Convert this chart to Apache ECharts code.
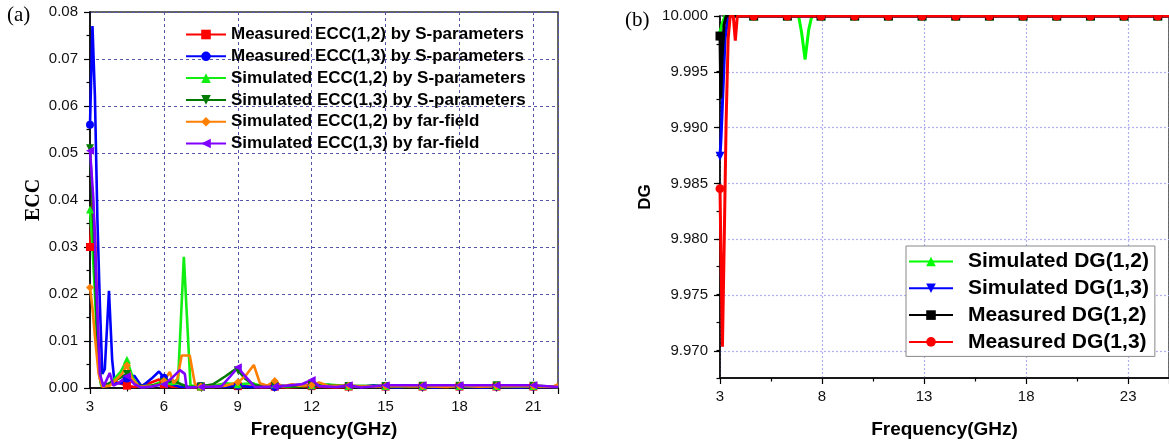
<!DOCTYPE html>
<html>
<head>
<meta charset="utf-8">
<script src="https://cdn.jsdelivr.net/npm/echarts@6.0.0/dist/echarts.min.js"></script>
<style>
  html, body { margin: 0; padding: 0; background: #fff; }
  #chart { width: 1169px; height: 444px; }
</style>
</head>
<body>
<div id="chart"></div>
<script>
// ---- (a) ECC vs frequency, [GHz, ECC] ----
const eccNames = [
  'Measured ECC(1,2) by S-parameters',
  'Measured ECC(1,3) by S-parameters',
  'Simulated ECC(1,2) by S-parameters',
  'Simulated ECC(1,3) by S-parameters',
  'Simulated ECC(1,2) by far-field',
  'Simulated ECC(1,3) by far-field'
]
const measEcc12 = [
  [3.0, 0.030], [3.1, 0.040], [3.2, 0.033], [3.3, 0.015], [3.4, 0.002], [3.5, 0.0003],
  [3.8, 0.0008], [4.1, 0.0012], [4.5, 0.0005], [4.8, 0.0002], [5.3, 0.0008], [5.8, 0.0018],
  [6.0, 0.0008], [6.3, 0.0003], [6.8, 0.0002], [7.2, 0.0001], [7.5, 0.0003], [8.0, 0.0005],
  [8.5, 0.0008], [9.0, 0.0004], [9.5, 0.0003], [10.0, 0.0001], [10.5, 0.0003], [11.0, 0.0001],
  [12.0, 0.0004], [13.0, 0.0001], [13.5, 0.0003], [15.0, 0.0003], [16.5, 0.0003], [18.0, 0.0003],
  [19.5, 0.0003], [21.0, 0.0003], [22.0, 0.0002]
]
const measEcc13 = [
  [3.0, 0.056], [3.1, 0.077], [3.2, 0.062], [3.3, 0.036], [3.4, 0.018], [3.5, 0.003],
  [3.6, 0.004], [3.77, 0.0207], [3.9, 0.006], [4.0, 0.001], [4.3, 0.001], [4.5, 0.002],
  [4.8, 0.0026], [5.1, 0.0003], [5.5, 0.002], [5.8, 0.0035], [6.0, 0.0022], [6.3, 0.0008],
  [6.6, 0.0003], [7.0, 0.0002], [7.5, 0.0004], [8.0, 0.0006], [8.5, 0.0003], [9.0, 0.0005],
  [9.5, 0.0002], [10.0, 0.0003], [10.5, 0.0002], [11.0, 0.0004], [11.5, 0.0007], [12.0, 0.0005],
  [12.7, 0.0007], [13.0, 0.0002], [13.5, 0.0004], [14.0, 0.0002], [14.5, 0.0006], [15.0, 0.0003],
  [15.5, 0.0001], [16.1, 0.0005], [16.5, 0.0003], [17.0, 0.0001], [17.7, 0.0004], [18.0, 0.0003],
  [19.0, 0.0001], [19.5, 0.0003], [20.5, 0.0001], [21.0, 0.0003], [22.0, 0.0002]
]
const simEcc12 = [
  [3.0, 0.038], [3.1, 0.030], [3.2, 0.020], [3.3, 0.008], [3.45, 0.0005], [3.7, 0.0005],
  [4.0, 0.002], [4.25, 0.0035], [4.5, 0.006], [4.75, 0.002], [5.0, 0.0003], [5.5, 0.0005],
  [6.0, 0.0015], [6.3, 0.0008], [6.57, 0.001], [6.81, 0.0279], [7.08, 0.0005], [7.5, 0.0003],
  [8.0, 0.0004], [8.5, 0.001], [9.0, 0.0008], [9.6, 0.001], [10.0, 0.0003], [10.5, 0.0008],
  [11.0, 0.0002], [12.0, 0.0006], [12.5, 0.0008], [13.5, 0.0004], [15.0, 0.0004], [16.5, 0.0004],
  [18.0, 0.0004], [19.5, 0.0004], [21.0, 0.0004], [22.0, 0.0002]
]
const simEcc13 = [
  [3.0, 0.051], [3.1, 0.040], [3.2, 0.025], [3.3, 0.010], [3.45, 0.001], [3.7, 0.0008],
  [4.0, 0.0015], [4.5, 0.003], [4.8, 0.001], [5.2, 0.0002], [5.8, 0.0008], [6.0, 0.0012],
  [6.4, 0.0015], [6.7, 0.0008], [7.0, 0.0002], [7.5, 0.0003], [8.0, 0.0008], [8.5, 0.0025],
  [8.9, 0.004], [9.0, 0.0038], [9.3, 0.002], [9.7, 0.0005], [10.5, 0.0005], [11.5, 0.0003],
  [12.0, 0.0006], [13.5, 0.0004], [15.0, 0.0004], [16.5, 0.0005], [18.0, 0.0005], [19.5, 0.0006],
  [21.0, 0.0005], [22.0, 0.0002]
]
const ffEcc12 = [
  [3.0, 0.0214], [3.1, 0.017], [3.2, 0.011], [3.35, 0.003], [3.5, 0.0003], [3.8, 0.0005],
  [4.0, 0.0015], [4.3, 0.003], [4.5, 0.0048], [4.7, 0.002], [5.0, 0.0003], [5.5, 0.0003],
  [5.9, 0.0008], [6.0, 0.0015], [6.24, 0.0034], [6.4, 0.001], [6.55, 0.002], [6.72, 0.0069],
  [7.05, 0.0069], [7.26, 0.0008], [7.5, 0.0003], [8.0, 0.0002], [8.5, 0.0005], [9.0, 0.0012],
  [9.3, 0.0025], [9.65, 0.0049], [9.9, 0.001], [10.2, 0.0005], [10.5, 0.0015], [10.8, 0.0003],
  [11.2, 0.0008], [11.5, 0.0005], [12.0, 0.0006], [12.3, 0.0012], [12.7, 0.0004], [13.5, 0.0005],
  [14.0, 0.0003], [15.0, 0.0004], [16.5, 0.0004], [17.5, 0.0002], [18.0, 0.0005], [18.8, 0.0003],
  [19.5, 0.0004], [21.0, 0.0004], [21.8, 0.0003], [22.0, 0.0008]
]
const ffEcc13 = [
  [3.0, 0.0505], [3.14, 0.040], [3.27, 0.020], [3.4, 0.003], [3.55, 0.0003], [3.8, 0.0032],
  [3.95, 0.0005], [4.2, 0.0012], [4.5, 0.0025], [4.8, 0.0008], [5.1, 0.0001], [5.5, 0.0003],
  [6.0, 0.0008], [6.3, 0.002], [6.65, 0.0038], [6.85, 0.003], [6.92, 0.0001], [7.5, 0.0002],
  [8.0, 0.0003], [8.34, 0.0004], [8.7, 0.0025], [9.0, 0.0044], [9.3, 0.0025], [9.7, 0.0002],
  [10.5, 0.0003], [11.0, 0.0005], [11.6, 0.0008], [12.0, 0.0017], [12.3, 0.0004], [13.0, 0.0002],
  [13.5, 0.0006], [14.0, 0.0001], [15.0, 0.0006], [16.5, 0.0006], [18.0, 0.0006], [19.5, 0.0006],
  [21.0, 0.0006], [22.0, 0.0002]
]

// ---- (b) DG vs frequency, [GHz, DG] ----
const dgNames = ['Simulated DG(1,2)', 'Simulated DG(1,3)', 'Measured DG(1,2)', 'Measured DG(1,3)']
const simDg12 = [
  [3.0, 9.9985], [3.1, 9.9993], [3.25, 10.0], [4.65, 10.0], [6.3, 10.0], [6.85, 10.0],
  [7.0, 9.9985], [7.17, 9.9961], [7.35, 9.9988], [7.5, 10.0], [7.95, 10.0], [9.6, 10.0],
  [11.25, 10.0], [12.9, 10.0], [14.55, 10.0], [16.2, 10.0], [17.85, 10.0], [19.5, 10.0],
  [21.15, 10.0], [22.8, 10.0], [24.45, 10.0], [25.0, 10.0]
]
const simDg13 = [
  [3.0, 9.9874], [3.05, 9.989], [3.15, 9.9935], [3.25, 9.998], [3.4, 10.0], [4.65, 10.0],
  [6.3, 10.0], [7.95, 10.0], [9.6, 10.0], [11.25, 10.0], [12.9, 10.0], [14.55, 10.0],
  [16.2, 10.0], [17.85, 10.0], [19.5, 10.0], [21.15, 10.0], [22.8, 10.0], [24.45, 10.0], [25.0, 10.0]
]
const measDg12 = [
  [3.0, 9.9982], [3.04, 9.9926], [3.1, 9.9962], [3.2, 9.9992], [3.3, 10.0], [4.65, 10.0],
  [6.3, 10.0], [7.95, 10.0], [9.6, 10.0], [11.25, 10.0], [12.9, 10.0], [14.55, 10.0],
  [16.2, 10.0], [17.85, 10.0], [19.5, 10.0], [21.15, 10.0], [22.8, 10.0], [24.45, 10.0], [25.0, 10.0]
]
const measDg13 = [
  [3.0, 9.9845], [3.06, 9.977], [3.12, 9.9703], [3.2, 9.979], [3.3, 9.9905], [3.4, 9.998],
  [3.5, 10.0], [3.65, 10.0], [3.75, 9.9978], [3.85, 10.0], [4.65, 10.0], [6.3, 10.0],
  [7.95, 10.0], [9.6, 10.0], [11.25, 10.0], [12.9, 10.0], [14.55, 10.0], [16.2, 10.0],
  [17.85, 10.0], [19.5, 10.0], [21.15, 10.0], [22.8, 10.0], [24.45, 10.0], [25.0, 10.0]
]
const dgTicks = [9.970, 9.975, 9.980, 9.985, 9.990, 9.995, 10.000]

const chart = echarts.init(document.getElementById('chart'))

// markers only every `step` GHz, like the original plot
function withMarks(points, step) {
  return points.map(function (p) {
    const k = (p[0] - 3) / step
    const item = { value: p }
    if (Math.abs(k - Math.round(k)) > 1e-6) item.symbol = 'none'
    return item
  })
}

const sans = 'Liberation Sans, Arial, sans-serif'
const serif = 'Liberation Serif, Times New Roman, serif'
const triDown = 'path://M0,0L10,0L5,9Z'
const triLeft = 'path://M9,0L9,10L0,5Z'

function eccSeries(name, data, color, symbol) {
  return {
    name: name, type: 'line', xAxisIndex: 0, yAxisIndex: 0,
    data: withMarks(data, 1.5),
    symbol: symbol, symbolSize: 8, showSymbol: true,
    lineStyle: { color: color, width: 2.6 }, itemStyle: { color: color },
    animation: false
  }
}
function dgSeries(name, data, color, symbol) {
  return {
    name: name, type: 'line', xAxisIndex: 1, yAxisIndex: 1,
    data: withMarks(data, 1.65),
    symbol: symbol, symbolSize: 9, showSymbol: true, clip: false,
    lineStyle: { color: color, width: 3 }, itemStyle: { color: color },
    animation: false
  }
}

const option = {
  backgroundColor: '#fff',
  graphic: [
    { type: 'text', left: 7, top: 5, style: { text: '(a)', font: '21px ' + serif, fill: '#000' } },
    { type: 'text', left: 625, top: 10, style: { text: '(b)', font: '21px ' + serif, fill: '#000' } },
    // hide the marker halves above the frame, as in the original plot
    { type: 'rect', z: 100, silent: true, shape: { x: 721, y: 0, width: 448, height: 15 }, style: { fill: '#fff' } }
  ],
  grid: [
    { left: 90, top: 12, width: 468, height: 377, show: true, borderColor: '#333', borderWidth: 1.5 },
    { left: 720, top: 16, width: 453, height: 363, show: true, borderColor: '#333', borderWidth: 1.5 },
    { left: 720, top: 16, width: 453, height: 335 }
  ],
  legend: [
    {
      data: eccNames, orient: 'vertical', left: 185, top: 26, padding: 0,
      itemWidth: 40, itemHeight: 12, itemGap: 4.8,
      textStyle: { fontFamily: sans, fontWeight: 'bold', fontSize: 17, lineHeight: 17, color: '#000' }
    },
    {
      data: dgNames, orient: 'vertical', left: 906, top: 246, padding: [5, 6, 4, 2],
      itemWidth: 44, itemHeight: 12, itemGap: 5.8,
      backgroundColor: '#fff', borderColor: '#888', borderWidth: 1,
      textStyle: { fontFamily: sans, fontWeight: 'bold', fontSize: 21, lineHeight: 21, color: '#000', padding: [0, 0, 0, 10] }
    }
  ],
  xAxis: [
    {
      gridIndex: 0, type: 'value', min: 3, max: 22, interval: 3,
      name: 'Frequency(GHz)', nameLocation: 'middle', nameGap: 32,
      nameTextStyle: { fontFamily: sans, fontWeight: 'bold', fontSize: 19, color: '#000' },
      axisLine: { onZero: false, lineStyle: { color: '#000', width: 1.5 } },
      axisTick: { length: 6, lineStyle: { color: '#000', width: 1.2 } },
      minorTick: { show: true, splitNumber: 2, length: 3.5, lineStyle: { color: '#000', width: 1.2 } },
      axisLabel: { margin: 11, showMaxLabel: false, fontFamily: sans, fontSize: 15, color: '#111' },
      splitLine: { lineStyle: { color: '#5555aa', width: 1, type: [3, 3] } }
    },
    {
      gridIndex: 1, type: 'value', min: 3, max: 25, interval: 5,
      name: 'Frequency(GHz)', nameLocation: 'middle', nameGap: 42,
      nameTextStyle: { fontFamily: sans, fontWeight: 'bold', fontSize: 19, color: '#000' },
      axisLine: { onZero: false, lineStyle: { color: '#000', width: 1.5 } },
      axisTick: { length: 6, lineStyle: { color: '#000', width: 1.2 } },
      minorTick: { show: true, splitNumber: 2, length: 3.5, lineStyle: { color: '#000', width: 1.2 } },
      axisLabel: { margin: 11, showMaxLabel: false, fontFamily: sans, fontSize: 15, color: '#111' },
      splitLine: { lineStyle: { color: '#b0b0f0', width: 1.2, type: [2, 2] } }
    },
    { gridIndex: 2, type: 'value', min: 3, max: 25, show: false }
  ],
  yAxis: [
    {
      gridIndex: 0, type: 'value', min: 0, max: 0.08, interval: 0.01,
      name: 'ECC', nameLocation: 'middle', nameGap: 46,
      nameTextStyle: { fontFamily: serif, fontWeight: 'bold', fontSize: 20, color: '#000' },
      axisLine: { show: true, onZero: false, lineStyle: { color: '#000', width: 1.5 } },
      axisTick: { length: 6, lineStyle: { color: '#000', width: 1.2 } },
      minorTick: { show: true, splitNumber: 2, length: 3.5, lineStyle: { color: '#000', width: 1.2 } },
      axisLabel: { margin: 12, fontFamily: sans, fontSize: 15, color: '#111', formatter: function (v) { return v.toFixed(2) } },
      splitLine: { lineStyle: { color: '#5555aa', width: 1, type: [3, 3] } }
    },
    {
      gridIndex: 1, type: 'value', min: 9.9675, max: 10.0, interval: 0.0025,
      name: 'DG', nameLocation: 'middle', nameGap: 66,
      nameTextStyle: { fontFamily: sans, fontWeight: 'bold', fontSize: 17, color: '#000' },
      axisLine: { show: true, onZero: false, lineStyle: { color: '#000', width: 1.5 } },
      axisTick: { length: 3.5, lineStyle: { color: '#000', width: 1.2 } },
      axisLabel: { show: false },
      splitLine: { show: false }
    },
    {
      gridIndex: 2, type: 'value', min: dgTicks[0], max: dgTicks[dgTicks.length - 1], interval: 0.005,
      axisLine: { show: false },
      axisTick: { length: 6, lineStyle: { color: '#000', width: 1.2 } },
      axisLabel: { margin: 12, fontFamily: sans, fontSize: 15, color: '#111', formatter: function (v) { return v.toFixed(3) } },
      splitLine: { lineStyle: { color: '#b0b0f0', width: 1.2, type: [2, 2] } }
    }
  ],
  series: [
    eccSeries(eccNames[0], measEcc12, '#ff0000', 'rect'),
    eccSeries(eccNames[1], measEcc13, '#0000ff', 'circle'),
    eccSeries(eccNames[2], simEcc12, '#11ee11', 'triangle'),
    eccSeries(eccNames[3], simEcc13, '#007a00', triDown),
    eccSeries(eccNames[4], ffEcc12, '#ff8000', 'diamond'),
    eccSeries(eccNames[5], ffEcc13, '#8000ff', triLeft),
    dgSeries(dgNames[0], simDg12, '#00ff00', 'triangle'),
    dgSeries(dgNames[1], simDg13, '#0000ff', triDown),
    dgSeries(dgNames[2], measDg12, '#000000', 'rect'),
    dgSeries(dgNames[3], measDg13, '#ff0000', 'circle')
  ]
}

chart.setOption(option)
</script>
</body>
</html>
